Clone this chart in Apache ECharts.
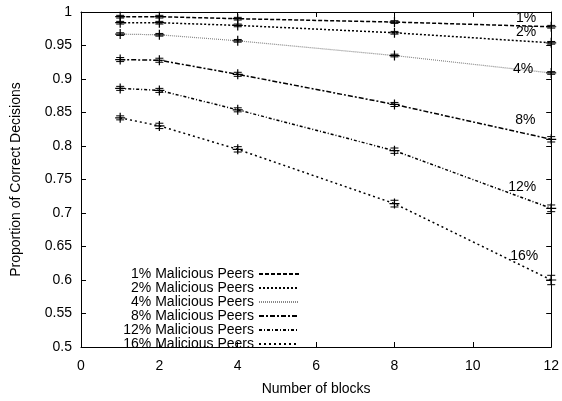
<!DOCTYPE html>
<html>
<head>
<meta charset="utf-8">
<script src="https://cdn.jsdelivr.net/npm/echarts@6/dist/echarts.min.js"></script>
<style>
  html, body { margin: 0; padding: 0; background: #fff; }
  #main { width: 562px; height: 401px; }
</style>
</head>
<body>
<div id="main"></div>
<script>
// number of blocks on the x axis
const blocks = [1, 2, 4, 8, 12];

// proportion of correct decisions per malicious-peer share
const peers1 = [0.993, 0.993, 0.990, 0.985, 0.978];
const peers2 = [0.984, 0.984, 0.980, 0.969, 0.954];
const peers4 = [0.967, 0.966, 0.957, 0.935, 0.909];
const peers8 = [0.929, 0.928, 0.907, 0.862, 0.810];
const peers12 = [0.886, 0.883, 0.854, 0.793, 0.707];
const peers16 = [0.842, 0.830, 0.795, 0.714, 0.600];

// error bar half-widths
const err1 = [0.002, 0.002, 0.002, 0.002, 0.002];
const err2 = [0.002, 0.002, 0.002, 0.002, 0.002];
const err4 = [0.002, 0.002, 0.002, 0.002, 0.002];
const err8 = [0.003, 0.003, 0.003, 0.003, 0.004];
const err12 = [0.003, 0.003, 0.003, 0.004, 0.005];
const err16 = [0.003, 0.004, 0.004, 0.005, 0.007];

const seriesNames = ['1% Malicious Peers', '2% Malicious Peers', '4% Malicious Peers',
  '8% Malicious Peers', '12% Malicious Peers', '16% Malicious Peers'];
const endLabels = ['1%', '2%', '4%', '8%', '12%', '16%'];
const endLabelX = [11.36, 11.36, 11.28, 11.34, 11.26, 11.31];
const endLabelY = [0.991, 0.970, 0.915, 0.839, 0.739, 0.636];

const allValues = [peers1, peers2, peers4, peers8, peers12, peers16];
const allErrors = [err1, err2, err4, err8, err12, err16];
const lineStyles = [
  { color: '#000', width: 1.5, type: [4, 2] },
  { color: '#000', width: 1.5, type: [2, 2] },
  { color: '#888', width: 1.2, type: [1, 1] },
  { color: '#000', width: 1.5, type: [5, 2, 2, 2] },
  { color: '#000', width: 1.5, type: [3, 2, 1, 2] },
  { color: '#000', width: 1.5, type: [2, 3] }
];

const font = 'Liberation Sans, Arial, sans-serif';
const plus = 'path://M0,4.4H10V5.6H0ZM4.4,0H5.6V10H4.4Z';

const chart = echarts.init(document.getElementById('main'));

const series = allValues.map((vals, i) => ({
  name: seriesNames[i],
  type: 'line',
  data: vals.map((v, j) => [blocks[j], v]),
  symbol: plus,
  symbolSize: 10,
  itemStyle: { color: '#000' },
  lineStyle: lineStyles[i],
  z: 3,
  markPoint: {
    symbol: 'circle',
    symbolSize: 0,
    data: [{ coord: [endLabelX[i], endLabelY[i]] }],
    label: {
      show: true, position: 'inside', formatter: endLabels[i],
      color: '#000', fontSize: 14, fontFamily: font
    }
  }
}));

const errData = [];
allValues.forEach((vals, i) => {
  vals.forEach((v, j) => errData.push([blocks[j], v, allErrors[i][j]]));
});

series.push({
  type: 'custom',
  name: 'err',
  silent: true,
  z: 4,
  data: errData,
  renderItem: (params, api) => {
    const x = api.value(0), y = api.value(1), e = api.value(2);
    const lo = api.coord([x, y - e]);
    const hi = api.coord([x, y + e]);
    const cap = 4;
    const s = { stroke: '#000', lineWidth: 1 };
    return {
      type: 'group',
      children: [
        { type: 'line', shape: { x1: lo[0], y1: lo[1], x2: hi[0], y2: hi[1] }, style: s },
        { type: 'line', shape: { x1: lo[0] - cap, y1: lo[1], x2: lo[0] + cap, y2: lo[1] }, style: s },
        { type: 'line', shape: { x1: hi[0] - cap, y1: hi[1], x2: hi[0] + cap, y2: hi[1] }, style: s }
      ]
    };
  }
});

const axisLine = { show: true, onZero: false, lineStyle: { color: '#000', width: 1 } };
const tick = { show: true, inside: true, length: 5, lineStyle: { color: '#000' } };
const labelStyle = { color: '#000', fontSize: 14, fontFamily: font };

const option = {
  animation: false,
  backgroundColor: '#fff',
  grid: { left: 81, right: 10, top: 12, bottom: 52 },
  legend: {
    data: seriesNames,
    orient: 'vertical',
    left: 115,
    top: 262,
    align: 'right',
    itemGap: 0,
    itemWidth: 40,
    itemHeight: 10,
    itemStyle: { opacity: 0 },
    textStyle: { color: '#000', fontSize: 14, lineHeight: 14, fontFamily: font, width: 134, align: 'right' }
  },
  xAxis: [{
    type: 'value', min: 0, max: 12, interval: 2,
    name: 'Number of blocks', nameLocation: 'middle', nameGap: 35,
    nameTextStyle: labelStyle,
    axisLine, axisTick: tick, splitLine: { show: false },
    axisLabel: Object.assign({ margin: 12 }, labelStyle)
  }, {
    type: 'value', min: 0, max: 12, interval: 2, position: 'top',
    axisLine, axisTick: tick, splitLine: { show: false }, axisLabel: { show: false }
  }],
  yAxis: [{
    type: 'value', min: 0.5, max: 1, interval: 0.05,
    name: 'Proportion of Correct Decisions', nameLocation: 'middle', nameGap: 58,
    nameTextStyle: labelStyle,
    axisLine, axisTick: tick, splitLine: { show: false },
    axisLabel: Object.assign({ margin: 9, formatter: v => String(+v.toFixed(2)) }, labelStyle)
  }, {
    type: 'value', min: 0.5, max: 1, interval: 0.05, position: 'right',
    axisLine, axisTick: tick, splitLine: { show: false }, axisLabel: { show: false }
  }],
  series
};

chart.setOption(option);
</script>
</body>
</html>
